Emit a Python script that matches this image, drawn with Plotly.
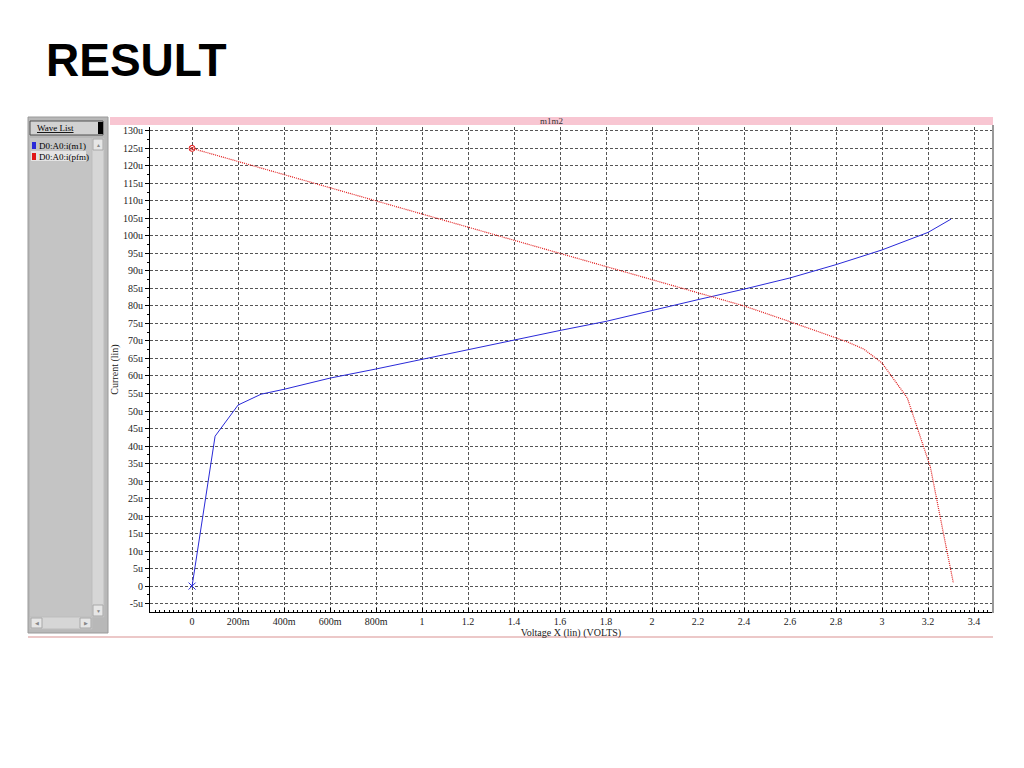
import plotly.graph_objects as go

# ---- data ----
m1_v = [0, 0.1, 0.2, 0.3, 0.4, 0.6, 0.8, 1.0, 1.2, 1.4, 1.6, 1.8, 2.0, 2.2, 2.4, 2.6, 2.8, 3.0, 3.2, 3.3]
m1_i = [0, 42.8, 51.7, 54.8, 56.2, 59.4, 62.0, 64.8, 67.5, 70.2, 73.0, 75.6, 78.8, 81.8, 84.8, 88.0, 91.8, 96.0, 101.0, 104.8]

pfm_v = [0, 0.4, 0.8, 1.2, 1.4, 1.8, 2.2, 2.4, 2.6, 2.85, 2.92, 3.0, 3.11, 3.21, 3.27, 3.31]
pfm_i = [125.0, 117.5, 110.0, 102.5, 98.8, 91.2, 83.6, 80.0, 75.5, 69.7, 67.7, 63.7, 53.7, 34.0, 14.0, 0.9]

y_tickvals = list(range(-5, 131, 5))
y_ticktext = [("0" if v == 0 else f"{v}u") for v in y_tickvals]
x_tickvals = [0, 0.2, 0.4, 0.6, 0.8, 1.0, 1.2, 1.4, 1.6, 1.8, 2.0, 2.2, 2.4, 2.6, 2.8, 3.0, 3.2, 3.4]
x_ticktext = ["0", "200m", "400m", "600m", "800m", "1", "1.2", "1.4", "1.6", "1.8", "2",
              "2.2", "2.4", "2.6", "2.8", "3", "3.2", "3.4"]

wave_names = ["D0:A0:i(m1)", "D0:A0:i(pfm)"]
wave_colors = ["#2a2ad8", "#e01818"]

# ---- plot area geometry (absolute page pixels) ----
OFF = 8  # default page body margin
L, R, T, B = 150, 992, 127, 612
def px(x):
    return (x - L) / (R - L)
def py(y):
    return (B - y) / (B - T)

fig = go.Figure()
fig.add_trace(go.Scatter(x=m1_v, y=m1_i, mode="lines", name=wave_names[0],
                         line=dict(color=wave_colors[0], width=1)))
fig.add_trace(go.Scatter(x=pfm_v, y=pfm_i, mode="lines", name=wave_names[1],
                         line=dict(color=wave_colors[1], width=1.2, dash="1px,1px")))
fig.add_trace(go.Scatter(x=[m1_v[0]], y=[m1_i[0]], mode="markers",
                         marker=dict(symbol="x-thin-open", size=7, color=wave_colors[0],
                                     line=dict(width=1, color=wave_colors[0]))))
fig.add_trace(go.Scatter(x=[pfm_v[0]], y=[pfm_i[0]], mode="markers",
                         marker=dict(symbol="circle-x-open", size=6, color=wave_colors[1],
                                     line=dict(width=1, color=wave_colors[1]))))

shapes = []
def rect(x0, y0, x1, y1, fill, line="rgba(0,0,0,0)", w=1):
    shapes.append(dict(type="rect", xref="paper", yref="paper", layer="below",
                       x0=px(x0), x1=px(x1), y0=py(y0), y1=py(y1),
                       fillcolor=fill, line=dict(color=line, width=w)))
def hline(x0, x1, y, color, w=1):
    shapes.append(dict(type="line", xref="paper", yref="paper",
                       x0=px(x0), x1=px(x1), y0=py(y), y1=py(y), line=dict(color=color, width=w)))
def vline(x, y0, y1, color, w=1):
    shapes.append(dict(type="line", xref="paper", yref="paper",
                       x0=px(x), x1=px(x), y0=py(y0), y1=py(y1), line=dict(color=color, width=w)))

# left wave list panel
rect(28, 117, 108, 633, "#b8b8b8", "#9a9a9a")
rect(30, 121, 103, 135, "#d2d2d2", "#505050")
rect(98, 122, 103, 134, "#000000")
rect(30, 138, 92, 617, "#c4c4c4")
rect(31, 151, 86, 161, "#e4e4e4")
rect(32, 142, 36, 149, wave_colors[0])
rect(32, 153, 36, 160, wave_colors[1])
rect(92, 138, 104, 617, "#d6d6d6", "#bdbdbd")
rect(93, 139, 103, 150, "#e6e6e6", "#a8a8a8")
rect(93, 605, 103, 616, "#e6e6e6", "#a8a8a8")
rect(30, 617, 92, 629, "#d6d6d6", "#bdbdbd")
rect(31, 618, 42, 628, "#e6e6e6", "#a8a8a8")
rect(80, 618, 91, 628, "#e6e6e6", "#a8a8a8")
# pink header bar
rect(110, 117, 993, 125, "#f8c6d2")
# right border & bottom line
vline(993, 125, 613, "#9a9a9a", 2)
hline(28, 993, 637, "#ecc8c8", 2)

annotations = [
    dict(text="<b>RESULT</b>", xref="paper", yref="paper", x=px(44), y=py(60),
         xanchor="left", yanchor="middle", showarrow=False,
         font=dict(family="Liberation Sans, Arial", size=46, color="black")),
    dict(text="m1m2", xref="paper", yref="paper", x=px(551), y=py(121),
         xanchor="center", yanchor="middle", showarrow=False,
         font=dict(family="Liberation Serif", size=9, color="#333")),
    dict(text="<u>Wave List</u>", xref="paper", yref="paper", x=px(55), y=py(128),
         xanchor="center", yanchor="middle", showarrow=False,
         font=dict(family="Liberation Serif", size=9, color="black")),
    dict(text=wave_names[0], xref="paper", yref="paper", x=px(37), y=py(145.5),
         xanchor="left", yanchor="middle", showarrow=False,
         font=dict(family="Liberation Serif", size=9, color="black")),
    dict(text=wave_names[1], xref="paper", yref="paper", x=px(37), y=py(156.5),
         xanchor="left", yanchor="middle", showarrow=False,
         font=dict(family="Liberation Serif", size=9, color="black")),
    dict(text="▲", xref="paper", yref="paper", x=px(98), y=py(144.5),
         xanchor="center", yanchor="middle", showarrow=False,
         font=dict(size=5, color="#888")),
    dict(text="▼", xref="paper", yref="paper", x=px(98), y=py(610.5),
         xanchor="center", yanchor="middle", showarrow=False,
         font=dict(size=5, color="#888")),
    dict(text="◀", xref="paper", yref="paper", x=px(36.5), y=py(623),
         xanchor="center", yanchor="middle", showarrow=False,
         font=dict(size=5, color="#888")),
    dict(text="▶", xref="paper", yref="paper", x=px(85.5), y=py(623),
         xanchor="center", yanchor="middle", showarrow=False,
         font=dict(size=5, color="#888")),
]

tick_font = dict(family="Liberation Serif", size=10, color="#222")
fig.update_layout(
    width=1024 - OFF, height=768 - OFF,
    margin=dict(l=L - OFF, r=1024 - R, t=T - OFF, b=768 - B, autoexpand=False),
    paper_bgcolor="white", plot_bgcolor="white",
    showlegend=False,
    shapes=shapes, annotations=annotations,
    xaxis=dict(range=[-0.183, 3.478], tickvals=x_tickvals, ticktext=x_ticktext,
               showgrid=True, gridcolor="#555", gridwidth=1, griddash="3px,2px",
               zeroline=False, showline=True, linecolor="black", linewidth=1,
               ticks="inside", ticklen=4, tickcolor="black",
               minor=dict(dtick=0.02, tick0=0, ticks="inside", ticklen=2, tickcolor="black", showgrid=False),
               tickfont=tick_font,
               title=dict(text="Voltage X (lin) (VOLTS)", font=tick_font, standoff=0)),
    yaxis=dict(range=[-7.4, 131.1], tickvals=y_tickvals, ticktext=y_ticktext,
               showgrid=True, gridcolor="#555", gridwidth=1, griddash="3px,2px",
               zeroline=False, showline=True, linecolor="black", linewidth=1,
               ticks="outside", ticklen=4, tickcolor="black",
               minor=dict(dtick=2.5, tick0=0, ticks="outside", ticklen=2, tickcolor="black", showgrid=False),
               tickfont=tick_font,
               title=dict(text="Current (lin)", font=tick_font, standoff=2)),
)

fig.write_html("out.html")
